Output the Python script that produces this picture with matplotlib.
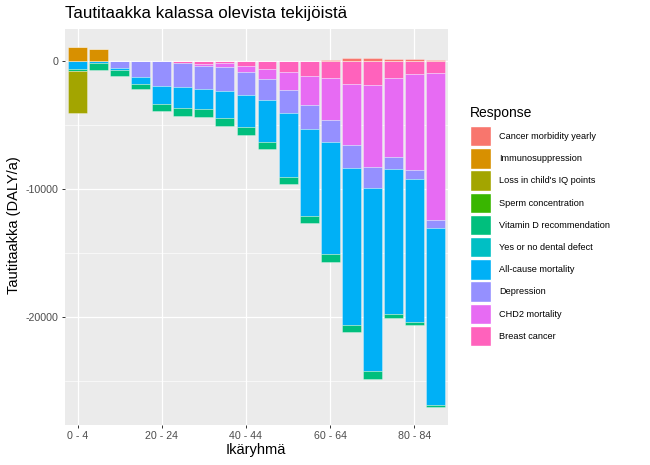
import numpy as np
import matplotlib.pyplot as plt
from matplotlib.patches import Rectangle
from matplotlib.ticker import MultipleLocator

plt.rcParams["font.family"] = "Liberation Sans"
plt.rcParams["axes.unicode_minus"] = False

age_groups = ["0 - 4", "5 - 9", "10 - 14", "15 - 19", "20 - 24", "25 - 29",
              "30 - 34", "35 - 39", "40 - 44", "45 - 49", "50 - 54", "55 - 59",
              "60 - 64", "65 - 69", "70 - 74", "75 - 79", "80 - 84", "85 - 89"]

responses = ["Cancer morbidity yearly", "Immunosuppression", "Loss in child's IQ points",
             "Sperm concentration", "Vitamin D recommendation", "Yes or no dental defect",
             "All-cause mortality", "Depression", "CHD2 mortality", "Breast cancer"]
colors = ["#F8766D", "#D89000", "#A3A500", "#39B600", "#00BF7D",
          "#00BFC4", "#00B0F6", "#9590FF", "#E76BF3", "#FF62BC"]

# DALY/a per age group
cancer_morbidity = [0, 0, 0, 0, 0, 0, 0, 0, 0, 0, 0, 0, 50, 170, 200, 120, 90, 70]
immunosuppression = [1040, 880, 0, 0, 0, 0, 0, 0, 0, 0, 0, 0, 0, 0, 0, 0, 0, 0]
iq_loss = [-3310, 0, 0, 0, 0, 0, 0, 0, 0, 0, 0, 0, 0, 0, 0, 0, 0, 0]
sperm = [0, 0, 0, 0, 0, 0, 0, 0, 0, 0, 0, 0, 0, 0, 0, 0, 0, 0]
vitamin_d = [-160, -520, -450, -390, -570, -650, -630, -650, -570, -550,
             -600, -600, -630, -600, -570, -290, -230, -180]
dental = [0, 0, 0, 0, 0, 0, 0, 0, 0, 0, 0, 0, 0, 0, 0, 0, 0, 0]
all_cause = [-630, -200, -180, -600, -1410, -1620, -1580, -2060, -2530, -3260,
             -4960, -6790, -8740, -12240, -14330, -11350, -11200, -13780]
depression = [0, 0, -550, -1260, -1900, -1880, -1780, -1920, -1830, -1670,
              -1770, -1880, -1770, -1830, -1600, -920, -700, -650]
chd2 = [0, 0, 0, 0, 0, 0, -160, -290, -470, -780,
        -1410, -2220, -3270, -4700, -6440, -6190, -7520, -11490]
breast = [0, 0, 0, 0, -50, -200, -270, -200, -390, -650,
          -920, -1230, -1360, -1860, -1910, -1360, -1020, -970]

series = [cancer_morbidity, immunosuppression, iq_loss, sperm, vitamin_d,
          dental, all_cause, depression, chd2, breast]

W, H = 650, 465
fig = plt.figure(figsize=(W/100, H/100), dpi=100)
ax = fig.add_axes([65/W, 1-425/H, (448-65)/W, (425-29.3)/H])
ax.set_facecolor("#EBEBEB")

x = np.arange(len(age_groups))
pos = np.zeros(len(x))
neg = np.zeros(len(x))
# ggplot stacks the last level nearest to zero
for vals, col in list(zip(series, colors))[::-1]:
    v = np.array(vals, dtype=float)
    bottom = np.where(v >= 0, pos, neg)
    ax.bar(x, v, bottom=bottom, width=0.9, color=col,
           edgecolor=(1, 1, 1, 0.45), linewidth=0.5)
    pos += np.clip(v, 0, None)
    neg += np.clip(v, None, 0)

lo, hi = neg.min(), pos.max()
pad = 0.05 * (hi - lo)
ax.set_ylim(lo - pad, hi + pad)
ax.set_xlim(-0.6, len(x) - 0.4)

ax.set_xticks(x[::4])
ax.set_xticklabels(age_groups[::4])
ax.set_yticks([0, -10000, -20000])
ax.yaxis.set_minor_locator(MultipleLocator(5000))

ax.set_axisbelow(True)
ax.grid(True, which="major", color="white", lw=0.9)
ax.grid(True, which="minor", axis="y", color="white", lw=0.45)
for s in ax.spines.values():
    s.set_visible(False)
ax.tick_params(which="major", length=2.5, width=0.7, color="#333333",
               labelcolor="#4D4D4D", labelsize=7.7, pad=2)
ax.tick_params(which="minor", length=0)

fig.text(65/W, 1-18/H, "Tautitaakka kalassa olevista tekijöistä",
         fontsize=12.2, va="baseline", ha="left")
fig.text(256/W, 1-450/H, "Ikäryhmä", fontsize=10.5, ha="center", va="center")
fig.text(14/W, 1-225/H, "Tautitaakka (DALY/a)", fontsize=10.5, rotation=90,
         ha="center", va="center")

# legend drawn by hand to match ggplot key sizes
fig.text(470/W, 1-113/H, "Response", fontsize=10, ha="left", va="center")
for i, (lab, col) in enumerate(zip(responses, colors)):
    top = 126 + 22.2 * i
    fig.add_artist(Rectangle((470/W, 1-(top+20.5)/H), 21/W, 20.5/H,
                             transform=fig.transFigure, facecolor=col,
                             edgecolor="white", linewidth=1))
    fig.text(499/W, 1-(top+10.5)/H, lab, fontsize=6.6, ha="left", va="center")

fig.savefig("out.png", dpi=100)
